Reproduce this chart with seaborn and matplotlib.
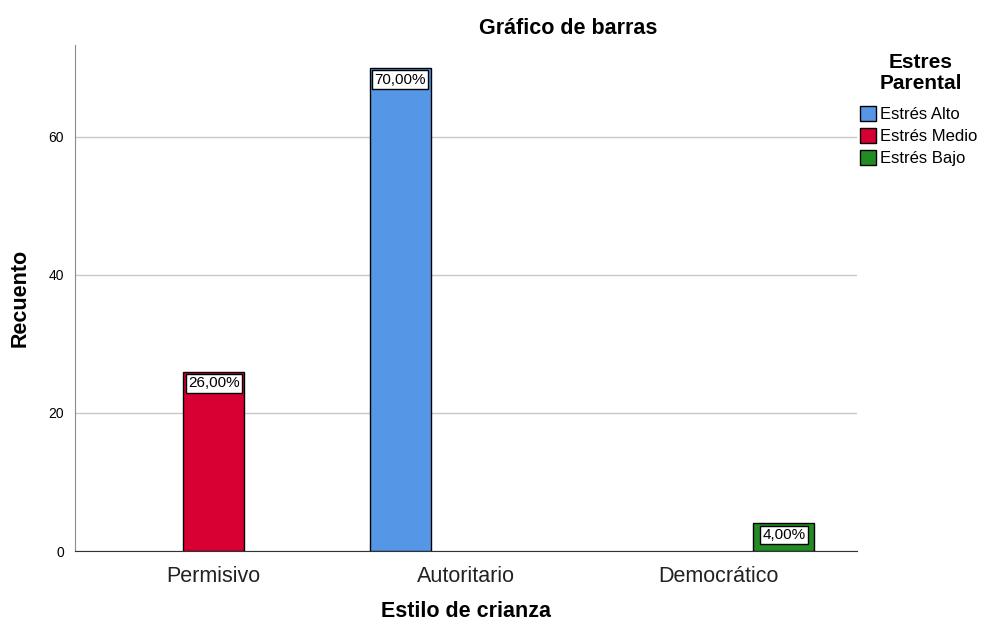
import pandas as pd
import matplotlib
matplotlib.use("Agg")
import matplotlib.pyplot as plt
from matplotlib.patches import Patch
import seaborn as sns

# datos
estilos = ["Permisivo", "Autoritario", "Democrático"]
niveles = ["Estrés Alto", "Estrés Medio", "Estrés Bajo"]
barra_estilo = ["Permisivo", "Autoritario", "Democrático"]
barra_nivel = ["Estrés Medio", "Estrés Alto", "Estrés Bajo"]
recuento = [26, 70, 4]
porcentaje = ["26,00%", "70,00%", "4,00%"]
colores = ["#5596e6", "#d60032", "#238b23"]

df = pd.DataFrame({"Estilo de crianza": barra_estilo,
                   "Estres Parental": barra_nivel,
                   "Recuento": recuento})

sns.set_style("white")
plt.rcParams["font.family"] = ["Liberation Sans", "DejaVu Sans"]
plt.rcParams["text.color"] = "black"
plt.rcParams["axes.labelcolor"] = "black"
plt.rcParams["xtick.color"] = "black"
plt.rcParams["ytick.color"] = "black"

fig = plt.figure(figsize=(9.88, 6.21), dpi=100)
ax = fig.add_axes([0.0759, 0.1127, 0.7915, 0.8148])

sns.barplot(data=df, x="Estilo de crianza", y="Recuento", hue="Estres Parental",
            order=estilos, hue_order=niveles, palette=colores, saturation=1,
            dodge=True, width=0.78, gap=0.07, edgecolor="black", linewidth=1,
            legend=False, ax=ax, zorder=3)

ax.set_xlim(-0.55, 2.55)
ax.set_ylim(0, 73.3)
ax.set_yticks([0, 20, 40, 60])
ax.yaxis.grid(True, color="#c8c8c8", linewidth=1, zorder=0)
ax.set_axisbelow(True)
ax.tick_params(axis="y", labelsize=10, length=0, pad=8)
ax.tick_params(axis="x", labelsize=15.5, length=0, pad=11, colors="#222222")
for s in ["top", "right"]:
    ax.spines[s].set_visible(False)
ax.spines["left"].set_color("#8c8c8c")
ax.spines["bottom"].set_color("#333333")

for p in ax.patches:
    h = p.get_height()
    if h > 0:
        i = recuento.index(round(h))
        ax.text(p.get_x() + p.get_width() / 2, h - 1.7, porcentaje[i],
                ha="center", va="center", fontsize=11, zorder=5,
                bbox=dict(boxstyle="square,pad=0.15", fc="white", ec="black", lw=1))

ax.set_xlabel("Estilo de crianza", fontsize=15.5, fontweight="bold")
ax.xaxis.set_label_coords(0.5, -(601 - 551) / 506)
ax.set_ylabel("Recuento", fontsize=15.5, fontweight="bold")
ax.yaxis.label.set_va("center")
ax.yaxis.set_label_coords(-(75 - 20) / 782, 0.5)
fig.text(568 / 988, 1 - 28 / 621, "Gráfico de barras", ha="center", va="center",
         fontsize=15.5, fontweight="bold")

# titulo de la leyenda aparte
fig.text(921 / 988, 1 - 73 / 621, "Estres\nParental", ha="center", va="center",
         fontsize=15, fontweight="bold", linespacing=1.15)
handles = [Patch(facecolor=c, edgecolor="black", label=n) for c, n in zip(colores, niveles)]
leg = fig.legend(handles=handles, loc="upper left",
                 bbox_to_anchor=(848 / 988, 1 - 94 / 621), frameon=False,
                 fontsize=12, handlelength=0.95, handleheight=1.0,
                 handletextpad=0.25, labelspacing=0.35, borderpad=0.2)

fig.savefig("out.png", dpi=100)
